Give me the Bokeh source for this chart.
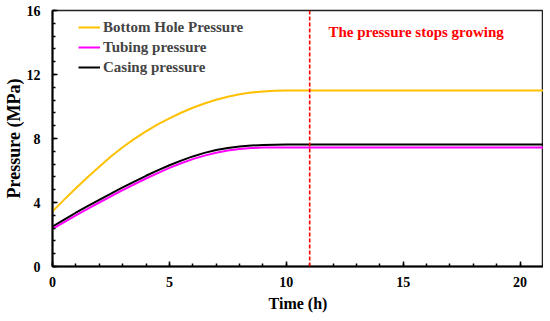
from bokeh.plotting import figure
from bokeh.models import Span, Label, SingleIntervalTicker, Legend, LegendItem
from bokeh.embed import file_html
from bokeh.resources import INLINE

time_h = [0, 0.5, 1, 1.5, 2, 2.5, 3, 3.5, 4, 4.5, 5, 5.5, 6, 6.5, 7, 7.5, 8, 8.5, 9, 9.5, 10, 21]
bottom_hole = [3.45, 4.18, 4.89, 5.58, 6.24, 6.88, 7.45, 7.98, 8.45, 8.88, 9.26, 9.61, 9.92, 10.19,
               10.42, 10.61, 10.76, 10.87, 10.94, 10.98, 11.0, 11.0]
casing = [2.5, 2.93, 3.36, 3.77, 4.17, 4.56, 4.94, 5.31, 5.67, 6.01, 6.33, 6.62, 6.88, 7.1,
          7.28, 7.41, 7.5, 7.56, 7.59, 7.61, 7.62, 7.62]
tubing = [2.35, 2.77, 3.19, 3.6, 4.0, 4.39, 4.77, 5.14, 5.5, 5.84, 6.16, 6.45, 6.71, 6.93,
          7.11, 7.25, 7.34, 7.4, 7.43, 7.44, 7.44, 7.44]
stop_time = 11
annotation_text = "The pressure stops growing"
annotation_x = 11.8
annotation_y = 14.67

FONT = "Liberation Serif"

p = figure(frame_width=491, frame_height=256, x_range=(0, 21), y_range=(0, 16),
           output_backend="svg", toolbar_location=None,
           min_border_left=50, min_border_right=0, min_border_top=10, min_border_bottom=0)
p.xgrid.visible = False
p.ygrid.visible = False
p.outline_line_color = "#222222"
p.outline_line_width = 1.5
p.background_fill_color = "white"
p.border_fill_color = "white"

r_bhp = p.line(time_h, bottom_hole, line_color="#FFC000", line_width=2)
r_tub = p.line(time_h, tubing, line_color="#FF00FF", line_width=2)
r_cas = p.line(time_h, casing, line_color="black", line_width=2)

p.add_layout(Span(location=stop_time, dimension="height", line_color="#FF0000",
                  line_width=1.6, line_dash="4 2"))

p.add_layout(Label(x=annotation_x, y=annotation_y, text=annotation_text,
                   text_font=FONT, text_font_style="bold", text_font_size="15px",
                   text_color="#FF0000", text_baseline="middle", text_align="left"))

p.xaxis.ticker = SingleIntervalTicker(interval=5, num_minor_ticks=5)
p.yaxis.ticker = SingleIntervalTicker(interval=4, num_minor_ticks=5)
for ax in (p.xaxis, p.yaxis):
    ax.axis_line_color = "black"
    ax.axis_line_width = 2
    ax.major_tick_in = 5
    ax.major_tick_out = 0
    ax.minor_tick_in = 3
    ax.minor_tick_out = 0
    ax.major_tick_line_color = "black"
    ax.minor_tick_line_color = "black"
    ax.major_tick_line_width = 1.5
    ax.minor_tick_line_width = 1.5
    ax.major_label_text_font = FONT
    ax.major_label_text_font_style = "bold"
    ax.major_label_text_font_size = "14px"
    ax.major_label_text_color = "black"
    ax.axis_label_text_font = FONT
    ax.axis_label_text_font_style = "bold"
    ax.axis_label_text_color = "black"

p.xaxis.axis_label = "Time (h)"
p.yaxis.axis_label = "Pressure (MPa)"
p.xaxis.axis_label_text_font_size = "16px"
p.yaxis.axis_label_text_font_size = "18px"
p.xaxis.major_label_standoff = 10
p.xaxis.axis_label_standoff = 5
p.yaxis.major_label_standoff = 12
p.yaxis.axis_label_standoff = 0

legend = Legend(items=[
    LegendItem(label="Bottom Hole Pressure", renderers=[r_bhp]),
    LegendItem(label="Tubing pressure", renderers=[r_tub]),
    LegendItem(label="Casing pressure", renderers=[r_cas]),
], location=(26, 189))
legend.label_text_font = FONT
legend.label_text_font_style = "bold"
legend.label_text_font_size = "15px"
legend.label_standoff = 3
legend.glyph_width = 22
legend.glyph_height = 20
legend.label_height = 20
legend.spacing = 0
legend.padding = 0
legend.margin = 0
legend.border_line_color = None
legend.background_fill_alpha = 0
p.add_layout(legend)

open("out.html", "w").write(file_html(p, INLINE))
